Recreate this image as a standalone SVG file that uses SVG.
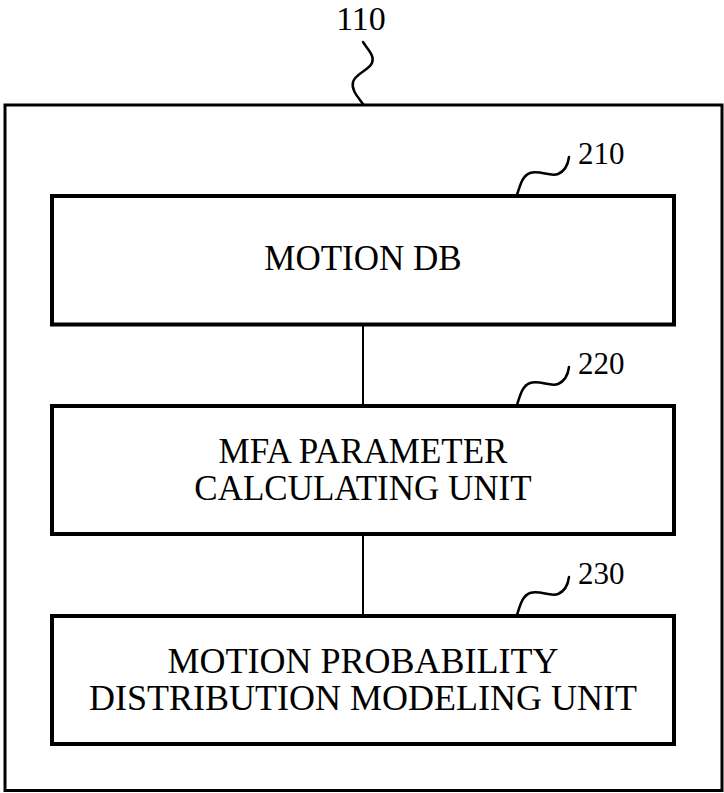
<svg xmlns="http://www.w3.org/2000/svg" width="724" height="793" viewBox="0 0 724 793">
<style>
.box{fill:#fff;stroke:#000;stroke-width:4}
.outer{fill:#fff;stroke:#000;stroke-width:3}
.lbl{font-family:"Liberation Serif","Times New Roman",serif;fill:#000;text-anchor:middle}
.t{font-size:35px}
.ref{font-size:31px;text-anchor:start}
.sq{fill:none;stroke:#000;stroke-width:2.5;stroke-linecap:round}
.conn{stroke:#000;stroke-width:2;fill:none}
</style>
<rect width="724" height="793" fill="#fff"/>
<g id="n110">
<rect class="outer" x="5" y="105" width="717" height="685.5"/>
<text class="lbl" x="361" y="30" font-size="34">110</text>
<path class="sq" d="M363,42 C368,50 375,56 372,63 C369,70 355,74 353,82 C351,90 358,97 363,104"/>
</g>
<g id="connectors">
<line class="conn" x1="363" y1="326" x2="363" y2="404"/>
<line class="conn" x1="363" y1="536" x2="363" y2="614"/>
</g>
<g id="n210">
<rect class="box" x="52" y="196" width="622" height="128.5"/>
<text class="lbl t" x="363" y="270">MOTION DB</text>
<text class="lbl ref" x="578" y="164">210</text>
<path class="sq" d="M517,195 C520,186 522,176 530,173 C540,170 550,177 558,174 C565,171 568,165 569,157"/>
</g>
<g id="n220">
<rect class="box" x="52" y="406" width="622" height="128"/>
<text class="lbl t" x="363" y="463">MFA PARAMETER</text>
<text class="lbl t" x="363" y="500">CALCULATING UNIT</text>
<text class="lbl ref" x="578" y="374">220</text>
<path class="sq" d="M517,405 C520,396 522,386 530,383 C540,380 550,387 558,384 C565,381 568,375 569,367"/>
</g>
<g id="n230">
<rect class="box" x="52" y="616" width="622" height="128"/>
<text class="lbl" x="363" y="673" style="font-size:36px">MOTION PROBABILITY</text>
<text class="lbl" x="363" y="710" style="font-size:36px">DISTRIBUTION MODELING UNIT</text>
<text class="lbl ref" x="578" y="584">230</text>
<path class="sq" d="M517,615 C520,606 522,596 530,593 C540,590 550,597 558,594 C565,591 568,585 569,577"/>
</g>
</svg>
